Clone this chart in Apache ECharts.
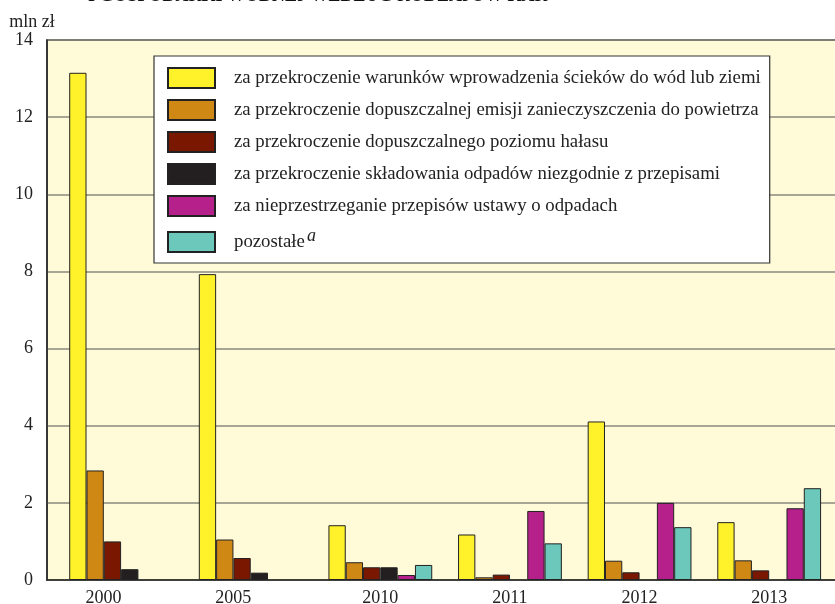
<!DOCTYPE html>
<html>
<head>
<meta charset="utf-8">
<script src="https://cdn.jsdelivr.net/npm/echarts@6/dist/echarts.min.js"></script>
<style>
  html, body { margin: 0; padding: 0; background: #fff; }
  #chart { width: 835px; height: 604px; }
</style>
</head>
<body>
<div id="chart"></div>
<script>
// lata
const years = ['2000', '2005', '2010', '2011', '2012', '2013'];

// kary w mln zł wg rodzaju
const sciekiValues = [13.15, 7.93, 1.42, 1.18, 4.11, 1.50];
const powietrzeValues = [2.84, 1.05, 0.46, 0.07, 0.50, 0.51];
const halasValues = [1.00, 0.57, 0.33, 0.14, 0.20, 0.25];
const skladowanieValues = [0.28, 0.19, 0.33, null, null, null];
const odpadyValues = [null, null, 0.13, 1.79, 2.00, 1.86];
const pozostaleValues = [null, null, 0.39, 0.95, 1.37, 2.38];

const seriesNames = [
  'za przekroczenie warunków wprowadzenia ścieków do wód lub ziemi',
  'za przekroczenie dopuszczalnej emisji zanieczyszczenia do powietrza',
  'za przekroczenie dopuszczalnego poziomu hałasu',
  'za przekroczenie składowania odpadów niezgodnie z przepisami',
  'za nieprzestrzeganie przepisów ustawy o odpadach',
  'pozostałe'
];
const seriesColors = ['#fff22a', '#d08815', '#7a1700', '#231f20', '#b5208a', '#6cc8bb'];
const seriesData = [sciekiValues, powietrzeValues, halasValues, skladowanieValues, odpadyValues, pozostaleValues];

const yTicks = [0, 2, 4, 6, 8, 10, 12, 14];

const FONT = '"Liberation Serif", "DejaVu Serif", serif';

let chart = echarts.init(document.getElementById('chart'));

let option = {
  animation: false,
  title: {
    text: 'I GOSPODARKI WODNEJ WEDŁUG RODZAJÓW KAR',
    left: 88,
    top: -13,
    padding: 0,
    textStyle: { fontFamily: FONT, fontSize: 18, fontWeight: 'bold', color: '#111' }
  },
  legend: {
    orient: 'vertical',
    left: 154,
    top: 56,
    padding: [11, 9, 10, 13],
    icon: 'rect',
    itemWidth: 47,
    itemHeight: 20,
    itemGap: 10,
    backgroundColor: '#ffffff',
    borderColor: '#333',
    borderWidth: 1.2,
    borderRadius: 0,
    selectedMode: false,
    data: seriesNames,
    formatter: function (name) {
      // indeks górny przy "pozostałe"
      return name === 'pozostałe' ? name + '{sup|a}' : name;
    },
    textStyle: {
      fontFamily: FONT,
      fontSize: 18.8,
      color: '#222',
      padding: [0, 0, 0, 14],
      rich: {
        sup: { fontFamily: FONT, fontSize: 18, fontStyle: 'italic', color: '#222', verticalAlign: 'bottom', padding: [0, 0, 12, 2] }
      }
    }
  },
  grid: [
    // tło i osie
    { left: 47, right: -2, top: 40, bottom: 24, outerBoundsMode: 'none', show: true, backgroundColor: '#fffbd9', borderColor: '#2b2b2b', borderWidth: 1.5 },
    // słupki
    { left: 56.3, right: 1, top: 40, bottom: 24, outerBoundsMode: 'none' }
  ],
  xAxis: [
    {
      gridIndex: 0,
      type: 'category',
      data: years,
      axisLine: { show: true, lineStyle: { color: '#2b2b2b', width: 1.5 } },
      axisTick: { show: false },
      axisLabel: { show: false },
      splitLine: { show: false }
    },
    {
      gridIndex: 1,
      type: 'category',
      data: years,
      axisLine: { show: false },
      axisTick: { show: false },
      axisLabel: {
        margin: 9,
        fontFamily: FONT,
        fontSize: 18,
        color: '#222',
        formatter: function (v, i) {
          // 2000 i 2005 - podpis pod czterema słupkami
          return i < 2 ? '{s|' + v + '}' : v;
        },
        rich: {
          s: { fontFamily: FONT, fontSize: 18, color: '#222', padding: [0, 35, 0, 0] }
        }
      }
    }
  ],
  yAxis: [
    {
      gridIndex: 0,
      type: 'value',
      min: yTicks[0],
      max: yTicks[yTicks.length - 1],
      interval: 2,
      name: 'mln zł',
      nameLocation: 'end',
      nameGap: 9,
      nameTextStyle: { fontFamily: FONT, fontSize: 18, color: '#222', align: 'center', padding: [0, 30, 0, 0] },
      axisLine: { show: true, lineStyle: { color: '#2b2b2b', width: 1.5 } },
      axisTick: { show: false },
      axisLabel: { margin: 14, fontFamily: FONT, fontSize: 18, color: '#222' },
      splitLine: { show: true, lineStyle: { color: '#8a887c', width: 1.5 } }
    },
    {
      gridIndex: 1,
      type: 'value',
      min: yTicks[0],
      max: yTicks[yTicks.length - 1],
      show: false,
      splitLine: { show: false }
    }
  ],
  series: seriesNames.map(function (name, i) {
    return {
      name: name,
      type: 'bar',
      xAxisIndex: 1,
      yAxisIndex: 1,
      data: seriesData[i],
      barWidth: 17.3,
      barGap: '0%',
      itemStyle: { color: seriesColors[i], borderColor: '#222', borderWidth: 1 }
    };
  })
};

chart.setOption(option);
</script>
</body>
</html>
